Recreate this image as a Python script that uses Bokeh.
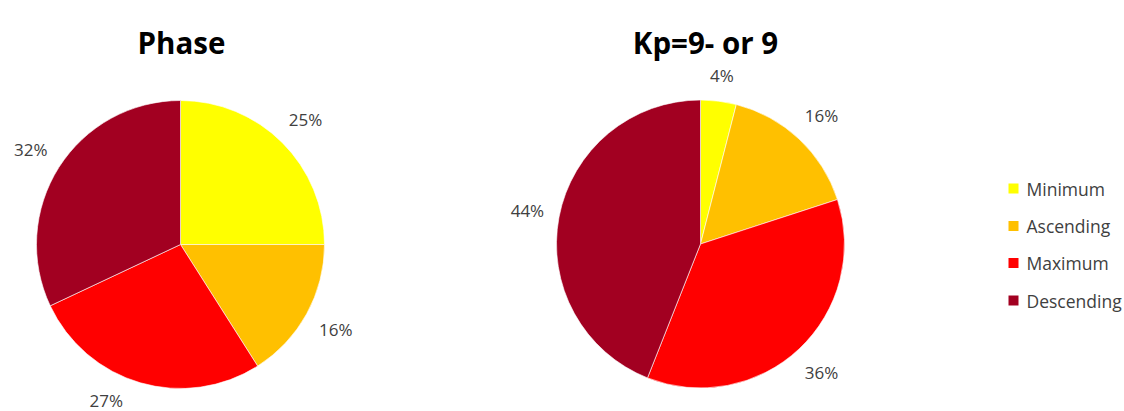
import math
from bokeh.plotting import figure
from bokeh.models import Range1d, ColumnDataSource
from bokeh.core.properties import value
from bokeh.embed import file_html
from bokeh.resources import INLINE

# Share of each solar-cycle phase
phases = ["Minimum", "Ascending", "Maximum", "Descending"]
colors = ["#FFFF00", "#FFC000", "#FF0000", "#A20021"]
phase_all = [25, 16, 27, 32]      # all events, by phase (%)
phase_kp9 = [4, 16, 36, 44]       # Kp = 9- or 9 events, by phase (%)
titles = ["Phase", "Kp=9- or 9"]

W, H = 1124, 411
FONT = "Open Sans"
LABEL_PX = 17

p = figure(width=W, height=H, x_range=Range1d(0, W), y_range=Range1d(0, H),
           x_axis_type=None, y_axis_type=None, toolbar_location=None,
           output_backend="svg", min_border=0)
p.grid.visible = False
p.outline_line_color = None
p.background_fill_color = "white"
p.border_fill_color = "white"


def Y(py):
    # page pixels measured from the top
    return H - py


def draw_pie(cx, cy, r, values, title, title_x):
    total = float(sum(values))
    starts, ends, lx, ly, labels = [], [], [], [], []
    cum = 0.0
    for v in values:
        a0 = math.pi / 2 - 2 * math.pi * cum / total
        cum += v
        a1 = math.pi / 2 - 2 * math.pi * cum / total
        starts.append(a0)
        ends.append(a1)
        mid = (a0 + a1) / 2
        txt = f"{v}%"
        hw = len(txt) * 0.29 * LABEL_PX
        hh = 9
        d = r + 16 + abs(math.cos(mid)) * hw + abs(math.sin(mid)) * hh
        px = cx + d * math.cos(mid)
        py = cy - d * math.sin(mid)
        # keep the label inside the page: slide it along its ring
        limit = H - 11
        if py > limit:
            off = math.acos((limit - cy) / d)
            side = 1 if math.cos(mid) >= 0 else -1
            px = cx + side * d * math.sin(off)
            py = limit
        lx.append(px)
        ly.append(Y(py))
        labels.append(txt)
    src = ColumnDataSource(dict(start=starts, end=ends, color=colors))
    p.wedge(x=cx, y=Y(cy), radius=r, start_angle="start", end_angle="end",
            direction="clock", fill_color="color", line_color="white",
            line_width=0.6, source=src)
    p.text(x=lx, y=ly, text=labels, text_font=value(FONT),
           text_font_size=f"{LABEL_PX}px", text_color="#404040",
           text_align="center", text_baseline="middle")
    p.text(x=[title_x], y=[Y(42)], text=[title], text_font=value(FONT),
           text_font_size="29.5px", text_font_style="bold", text_color="black",
           text_align="center", text_baseline="alphabetic")


draw_pie(180, 244, 144, phase_all, titles[0], 181)
draw_pie(700, 243.5, 144, phase_kp9, titles[1], 705)

# legend
leg_y = [Y(188), Y(225.5), Y(262.5), Y(300)]
p.scatter(x=[1013] * 4, y=leg_y, marker="square", size=10, fill_color=colors,
          line_color=None)
p.text(x=[1026] * 4, y=leg_y, text=phases, text_font=value(FONT),
       text_font_size="17.5px", text_color="#404040", text_align="left",
       text_baseline="middle")

open("out.html", "w").write(file_html(p, INLINE))
